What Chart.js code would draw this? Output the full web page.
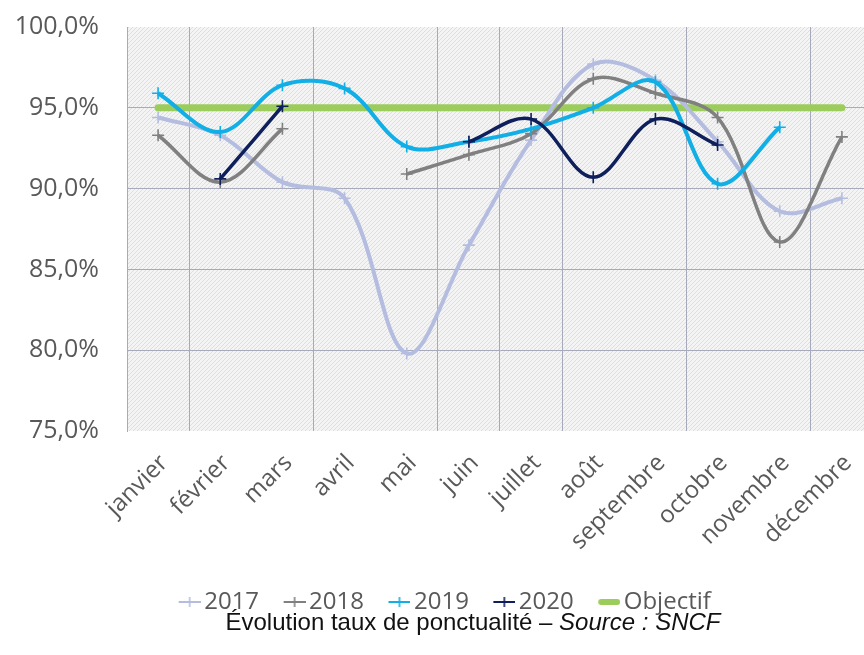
<!DOCTYPE html>
<html lang="fr">
<head>
<meta charset="utf-8">
<script src="https://cdn.jsdelivr.net/npm/chart.js@4.4.1/dist/chart.umd.min.js"></script>
<style>
  html, body { margin: 0; padding: 0; background: #fff; overflow: hidden; }
  #wrap { position: relative; width: 887px; height: 655px; }
  #caption {
    position: absolute; left: 0; top: 608px; width: 946px;
    text-align: center; font-family: "Liberation Sans", Arial, sans-serif;
    font-size: 24px; color: #111;
  }
</style>
</head>
<body>
<div id="wrap">
  <canvas id="chart"></canvas>
  <div id="caption">Évolution taux de ponctualité – <i>Source : SNCF</i></div>
</div>
<script>
// --- données ---
const months = ['janvier', 'février', 'mars', 'avril', 'mai', 'juin', 'juillet', 'août', 'septembre', 'octobre', 'novembre', 'décembre'];
const taux2017 = [94.4, 93.3, 90.4, 89.4, 79.8, 86.5, 93.0, 97.7, 96.7, 92.9, 88.6, 89.4];
const taux2018 = [93.3, 90.4, 93.7, null, 90.9, 92.1, 93.4, 96.8, 95.9, 94.4, 86.7, 93.2];
const taux2019 = [95.9, 93.5, 96.4, 96.2, 92.6, 92.9, 93.7, 95.0, 96.6, 90.3, 93.8, null];
const taux2020 = [null, 90.6, 95.1, null, null, 92.9, 94.3, 90.7, 94.3, 92.7, null, null];
const objectif = [95, 95, 95, 95, 95, 95, 95, 95, 95, 95, 95, 95];
const yTicks = [75, 80, 85, 90, 95, 100];

const textColor = '#595959';
const gridColor = '#a6aabb';

// icônes de légende : trait + croix, partie gauche transparente pour l'espacement
const makeIcon = (color, lw, cross) => {
    const c = document.createElement('canvas');
    c.width = 47; c.height = 14;
    const g = c.getContext('2d');
    g.strokeStyle = color;
    g.lineWidth = lw;
    g.lineCap = cross ? 'butt' : 'round';
    g.beginPath();
    g.moveTo(cross ? 25 : 28, 7);
    g.lineTo(cross ? 47 : 44, 7);
    g.stroke();
    if (cross) {
        g.lineWidth = 1.6;
        g.beginPath();
        g.moveTo(36, 2); g.lineTo(36, 12);
        g.stroke();
    }
    return c;
};

// fond texturé de la zone de tracé
const makePattern = () => {
    const c = document.createElement('canvas');
    c.width = 4; c.height = 4;
    const g = c.getContext('2d');
    g.fillStyle = '#f4f4f4';
    g.fillRect(0, 0, 4, 4);
    g.fillStyle = '#dedede';
    for (let i = 0; i < 4; i++) g.fillRect(i, 3 - i, 1, 1);
    return g.createPattern(c, 'repeat');
};

const plotBg = {
    id: 'plotBg',
    beforeDraw(chart) {
        const { ctx, chartArea: a } = chart;
        ctx.save();
        ctx.fillStyle = makePattern();
        ctx.fillRect(a.left, a.top, a.right - a.left, a.bottom - a.top);
        ctx.restore();
    }
};

const serie = (label, data, color, width, order) => ({
    label, data, order,
    borderColor: color,
    backgroundColor: color,
    borderWidth: width,
    pointStyle: 'cross',
    pointRadius: 6,
    pointBorderWidth: 1.6,
    pointBorderColor: color,
    tension: 0.35,
    spanGaps: false
});

const datasets = [
    serie('2017', taux2017, '#b4bddf', 4, 4),
    serie('2018', taux2018, '#808080', 3.5, 3),
    serie('2019', taux2019, '#12aee6', 4, 2),
    serie('2020', taux2020, '#0e1f5b', 3.5, 1),
    {
        label: 'Objectif', data: objectif, order: 5,
        borderColor: '#9ccc5c', backgroundColor: '#9ccc5c',
        borderWidth: 7, borderCapStyle: 'round', pointRadius: 0, tension: 0
    }
];

const icons = [
    makeIcon('#b4bddf', 2, true),
    makeIcon('#808080', 2, true),
    makeIcon('#12aee6', 2, true),
    makeIcon('#0e1f5b', 2, true),
    makeIcon('#9ccc5c', 6, false)
];

const visibleX = [1, 3, 5, 6, 7, 9, 11];

new Chart(document.getElementById('chart'), {
    type: 'line',
    data: { labels: months, datasets: datasets },
    plugins: [plotBg],
    options: {
        responsive: true,
        maintainAspectRatio: false,
        animation: false,
        layout: { padding: { top: 27, right: 14, bottom: 31, left: 0 } },
        scales: {
            x: {
                offset: true,
                grid: {
                    offset: true,
                    drawTicks: false,
                    color: (c) => visibleX.includes(c.index) ? gridColor : 'rgba(0,0,0,0)'
                },
                border: { display: false },
                ticks: {
                    autoSkip: false,
                    minRotation: 45,
                    maxRotation: 45,
                    padding: 18,
                    labelOffset: 6,
                    color: textColor,
                    font: { family: 'Open Sans', size: 24 }
                },
                afterFit: (s) => { s.height = 151; }
            },
            y: {
                min: 75,
                max: 100,
                afterBuildTicks: (s) => { s.ticks = yTicks.map(v => ({ value: v })); },
                grid: {
                    drawTicks: false,
                    color: (c) => (c.tick && (c.tick.value === 75 || c.tick.value === 100)) ? 'rgba(0,0,0,0)' : gridColor
                },
                border: { display: true, color: gridColor, width: 1 },
                ticks: {
                    padding: 28,
                    color: textColor,
                    font: { family: 'Open Sans', size: 25 },
                    callback: (v) => v.toFixed(1).replace('.', ',') + '%'
                },
                afterFit: (s) => { s.width = 127; s.paddingTop = 0; s.paddingBottom = 0; }
            }
        },
        plugins: {
            legend: {
                position: 'bottom',
                labels: {
                    usePointStyle: true,
                    pointStyleWidth: 30,
                    padding: 8,
                    color: textColor,
                    font: { family: 'Open Sans', size: 24 },
                    sort: (a, b) => a.datasetIndex - b.datasetIndex,
                    generateLabels: (chart) => {
                        const items = Chart.defaults.plugins.legend.labels.generateLabels(chart);
                        items.forEach(it => { it.pointStyle = icons[it.datasetIndex]; it.rotation = 0; });
                        return items;
                    }
                }
            },
            tooltip: { enabled: false }
        }
    }
});
</script>
</body>
</html>
